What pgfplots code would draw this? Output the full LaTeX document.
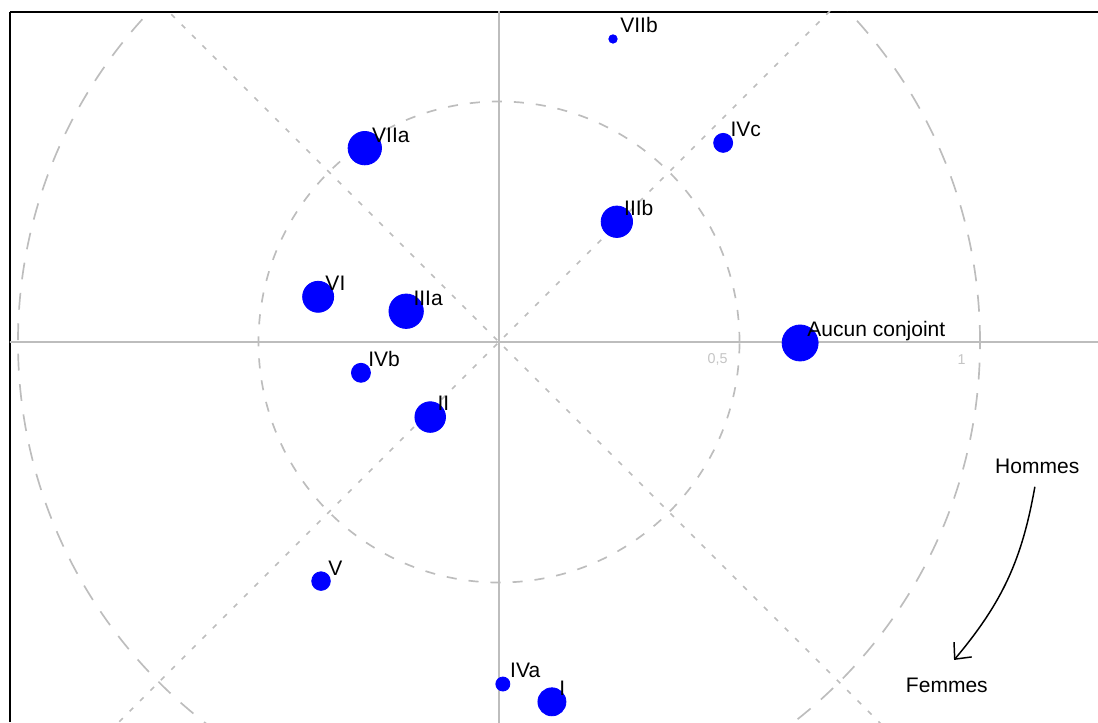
\documentclass[border=0pt]{standalone}
\usepackage{fontspec}
\setmainfont{Liberation Sans}
\usepackage{pgfplots}
\usepackage{pgfplotstable}
\pgfplotsset{compat=1.18}
\usetikzlibrary{arrows.meta}
\definecolor{gridgray}{HTML}{BDBDBD}
\definecolor{ticklab}{HTML}{C4C4C4}
\pgfplotstableread{
x y r label
0.237 0.630 4.2 VIIb
0.466 0.414 9.5 IVc
-0.279 0.403 16.7 VIIa
0.245 0.250 15.7 IIIb
-0.376 0.094 15.5 VI
-0.193 0.064 17.2 IIIa
0.626 -0.002 18.0 {Aucun conjoint}
-0.287 -0.064 9.5 IVb
-0.143 -0.156 15.3 II
-0.370 -0.497 9.3 V
0.008 -0.711 7.0 IVa
0.110 -0.748 14.0 I
}\pts
\begin{document}
\begin{tikzpicture}
\begin{axis}[
  name=ax,
  scale only axis,
  width=517.9pt, height=338.0pt,
  xmin=-1.0166, xmax=1.2453,
  ymin=-0.7900, ymax=0.6861,
  axis x line*=top, axis y line*=left,
  axis line style={black, line width=1pt, -},
  xtick=\empty, ytick=\empty,
  clip=true,
]
% reference geometry
\draw[gridgray, line width=0.9pt] (axis cs:-2,0) -- (axis cs:2,0);
\draw[gridgray, line width=0.9pt] (axis cs:0,-2) -- (axis cs:0,2);
\draw[gridgray, line width=0.8pt, dash pattern=on 2.4pt off 4.6pt] (axis cs:-2,-2) -- (axis cs:2,2);
\draw[gridgray, line width=0.8pt, dash pattern=on 2.4pt off 4.6pt] (axis cs:-2,2) -- (axis cs:2,-2);
\draw[gridgray, line width=0.8pt, dash pattern=on 4.8pt off 5.7pt] (axis cs:0,0) circle[radius=0.5];
\draw[gridgray, line width=0.8pt, dash pattern=on 8pt off 6.5pt] (axis cs:0,0) circle[radius=1];
\node[anchor=east, inner sep=0pt, text=ticklab, font=\fontsize{6.8}{8}\selectfont] at (axis cs:0.476,-0.037) {0,5};
\node[anchor=east, inner sep=0pt, text=ticklab, font=\fontsize{6.8}{8}\selectfont] at (axis cs:0.971,-0.037) {1};
% points
\addplot[scatter, only marks, mark=*,
  scatter/use mapped color={draw=blue, fill=blue},
  visualization depends on={0.476*\thisrow{r} \as \perpointmarksize},
  scatter/@pre marker code/.append style={/tikz/mark size=\perpointmarksize},
] table[x=x, y=y] {\pts};
% labels
\addplot[only marks, mark=none,
  point meta=explicit symbolic,
  nodes near coords,
  every node near coord/.append style={anchor=base west, inner sep=0pt, xshift=3.3pt, yshift=2.9pt, font=\fontsize{10}{12}\selectfont, text=black},
] table[x=x, y=y, meta=label] {\pts};
% annotation
\node[font=\fontsize{10}{12}\selectfont] at (axis cs:1.119,-0.258) {Hommes};
\node[font=\fontsize{10}{12}\selectfont] at (axis cs:0.931,-0.713) {Femmes};
\draw[line width=0.7pt, -{Straight Barb[length=6pt, width=11pt]}] (axis cs:1.114,-0.301) to[bend left=15] (axis cs:0.946,-0.661);
\end{axis}
\pgfresetboundingbox
\path[use as bounding box] ([xshift=-4.76pt]ax.south west) rectangle ([yshift=5.71pt]ax.north east);
\end{tikzpicture}
\end{document}
